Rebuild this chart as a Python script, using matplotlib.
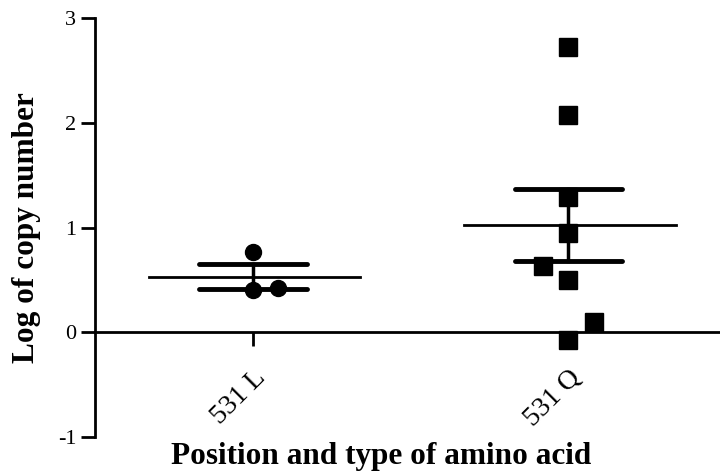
import matplotlib.pyplot as plt
import numpy as np

plt.rcParams['font.family'] = ['Liberation Serif', 'DejaVu Serif']
plt.rcParams['axes.unicode_minus'] = False

categories = ["531 L", "531 Q"]

# log copy number values
vals_531l = [0.77, 0.40, 0.42]
vals_531q = [2.72, 2.07, 1.29, 0.95, 0.63, 0.50, 0.10, -0.07]

# horizontal spread of the points inside a column (scatter jitter)
jit_531l = [0.0, 0.0, 0.08]
jit_531q = [0.0, 0.0, 0.0, 0.0, -0.08, 0.0, 0.08, 0.0]

groups = [
    (vals_531l, jit_531l, "o", 11.5),
    (vals_531q, jit_531q, "s", 13),
]

fig = plt.figure(figsize=(7.2, 4.75), dpi=100)
ax = fig.add_axes([0.132, 0.080, 0.868, 0.882])

for i, (vals, jit, marker, ms) in enumerate(groups):
    vals = np.array(vals)
    mean = np.mean(vals)
    sem = np.std(vals, ddof=1) / np.sqrt(len(vals))

    ax.plot([i - 0.33, i + 0.34], [mean, mean], color="black", lw=2, zorder=2)
    ax.plot([i, i], [mean - sem, mean + sem], color="black", lw=2.5, zorder=2)
    for y in (mean - sem, mean + sem):
        ax.plot([i - 0.17, i + 0.17], [y, y], color="black", lw=3.5,
                solid_capstyle="round", zorder=2)

    ax.plot(i + np.array(jit), vals, linestyle="none", marker=marker,
            markersize=ms, color="black", zorder=3)

ax.set_xlim(-0.5, 1.48)
ax.set_ylim(-1, 3)
ax.set_yticks([-1, 0, 1, 2, 3])
ax.set_xticks([0, 1])
ax.set_xticklabels(categories)

ax.spines["top"].set_visible(False)
ax.spines["right"].set_visible(False)
ax.spines["bottom"].set_position(("data", 0))
ax.spines["left"].set_linewidth(2)
ax.spines["bottom"].set_linewidth(2)

ax.tick_params(axis="both", width=2, length=10, labelsize=16, color="black")
ax.tick_params(axis="x", pad=14, labelsize=20)
plt.setp(ax.get_xticklabels(), rotation=45, ha="right", rotation_mode="anchor")

ax.set_ylabel("Log of copy number", fontsize=22.5, fontweight="bold", labelpad=12)
fig.text(0.53, 0.008, "Position and type of amino acid", fontsize=22.5,
         fontweight="bold", ha="center", va="bottom")

fig.savefig("out.png", dpi=100)
